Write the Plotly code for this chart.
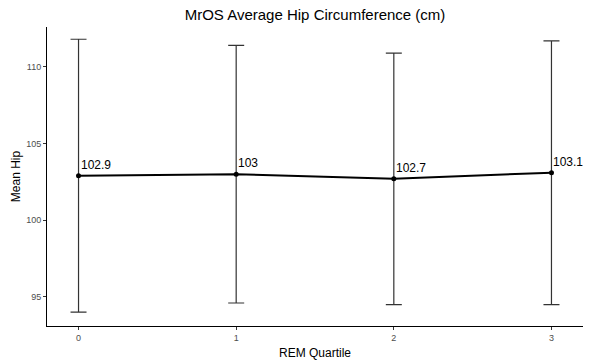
import plotly.graph_objects as go

# REM quartile groups with mean hip circumference and standard deviation
quartiles = [0, 1, 2, 3]
mean_hip = [102.9, 103.0, 102.7, 103.1]
sd_hip = [8.9, 8.4, 8.2, 8.6]
labels = ["102.9", "103", "102.7", "103.1"]

FONT = "Liberation Sans, Arial, Helvetica, sans-serif"

fig = go.Figure()

# error bars (mean ± sd)
fig.add_trace(go.Scatter(
    x=quartiles, y=mean_hip, mode="markers",
    marker=dict(size=0.1, color="rgba(0,0,0,0)"),
    error_y=dict(type="data", array=sd_hip, visible=True,
                 color="#333333", thickness=1.2, width=8),
    hoverinfo="skip", showlegend=False,
))

# mean line with points
fig.add_trace(go.Scatter(
    x=quartiles, y=mean_hip, mode="lines+markers",
    line=dict(color="black", width=2),
    marker=dict(color="black", size=5),
    showlegend=False,
))

# value labels beside each point
for q, m, t in zip(quartiles, mean_hip, labels):
    fig.add_annotation(x=q, y=m, text=t, showarrow=False,
                       xanchor="left", yanchor="bottom",
                       xshift=0, yshift=2,
                       font=dict(family=FONT, size=12, color="black"))

fig.update_layout(
    width=594, height=362,
    margin=dict(l=47, r=11, t=27, b=36),
    paper_bgcolor="white", plot_bgcolor="white",
    font=dict(family=FONT, color="black"),
    title=dict(text="MrOS Average Hip Circumference (cm)",
               x=(47 + 583) / 2 / 594, xanchor="center",
               y=1 - 15 / 362, yanchor="middle",
               font=dict(family=FONT, size=15, color="black")),
    xaxis=dict(range=[-0.2, 3.2], tickvals=quartiles,
               ticktext=[str(q) for q in quartiles],
               showgrid=False, zeroline=False, automargin=False,
               showline=True, linecolor="black", linewidth=1,
               ticks="outside", ticklen=3, tickcolor="#333333",
               tickfont=dict(family=FONT, size=9, color="#4d4d4d"),
               title=dict(text="REM Quartile", standoff=6,
                          font=dict(family=FONT, size=12, color="black"))),
    yaxis=dict(range=[93.1, 112.6], tickvals=[95, 100, 105, 110],
               showgrid=False, zeroline=False, automargin=False,
               showline=True, linecolor="black", linewidth=1,
               ticks="outside", ticklen=3, tickcolor="#333333",
               tickfont=dict(family=FONT, size=9, color="#4d4d4d"),
               title=dict(text="Mean Hip", standoff=2,
                          font=dict(family=FONT, size=12, color="black"))),
)

fig.write_html("out.html")
